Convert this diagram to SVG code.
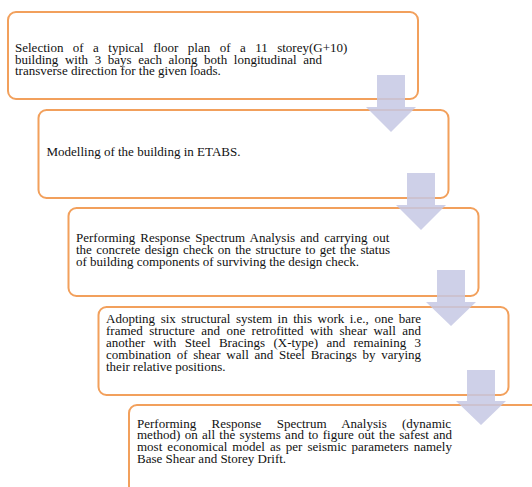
<svg xmlns="http://www.w3.org/2000/svg" width="532" height="487" viewBox="0 0 532 487">
<style>
.box{fill:#ffffff;stroke:#F2A05C;stroke-width:2}
.t{font-family:"Liberation Serif","Times New Roman",serif;font-size:13px;fill:#111}
.arr{fill:#C5C8E4;fill-opacity:0.85}
</style>
<rect x="0" y="0" width="532" height="487" fill="#ffffff"/>
<g id="node1">
<rect class="box" x="8" y="12" width="410" height="87" rx="8"/>
<text class="t" x="15" y="52" word-spacing="6.2">Selection of a typical floor plan of a 11 storey(G+10)</text>
<text class="t" x="15" y="63.5" word-spacing="3.35">building with 3 bays each along both longitudinal and</text>
<text class="t" x="15" y="75">transverse direction for the given loads.</text>
</g>
<g id="node2">
<rect class="box" x="38.5" y="110" width="410" height="88" rx="8"/>
<text class="t" x="46.5" y="156">Modelling of the building in ETABS.</text>
</g>
<g id="node3">
<rect class="box" x="68.5" y="208" width="410" height="88" rx="8"/>
<text class="t" x="76" y="241.5" word-spacing="1.9">Performing Response Spectrum Analysis and carrying out</text>
<text class="t" x="76" y="253.5" word-spacing="1.15">the concrete design check on the structure to get the status</text>
<text class="t" x="76" y="265.5">of building components of surviving the design check.</text>
</g>
<g id="node4">
<rect class="box" x="98.5" y="307" width="410" height="88" rx="8"/>
<text class="t" x="106" y="322.5" word-spacing="2.27">Adopting six structural system in this work i.e., one bare</text>
<text class="t" x="106" y="334.5" word-spacing="3.19">framed structure and one retrofitted with shear wall and</text>
<text class="t" x="106" y="346.5" word-spacing="5.03">another with Steel Bracings (X-type) and remaining 3</text>
<text class="t" x="106" y="358.5" word-spacing="2.46">combination of shear wall and Steel Bracings by varying</text>
<text class="t" x="106" y="370.5">their relative positions.</text>
</g>
<g id="node5">
<rect class="box" x="129" y="405" width="420" height="100" rx="8"/>
<text class="t" x="137" y="427.5" word-spacing="12.1">Performing Response Spectrum Analysis (dynamic</text>
<text class="t" x="137" y="439.2" word-spacing="1.1">method) on all the systems and to figure out the safest and</text>
<text class="t" x="137" y="451" word-spacing="1.83">most economical model as per seismic parameters namely</text>
<text class="t" x="137" y="462.7">Base Shear and Storey Drift.</text>
</g>
<g id="connectors">
<path class="arr" d="M377,75 H405 V107 H416 L391,132 L366,107 H377 Z"/>
<path class="arr" d="M407,173 H435 V205 H446 L421,230 L396,205 H407 Z"/>
<path class="arr" d="M437,270 H465 V302 H476 L451,326 L426,302 H437 Z"/>
<path class="arr" d="M467,370 H495 V401 H506 L481,425 L456,401 H467 Z"/>
</g>
</svg>
